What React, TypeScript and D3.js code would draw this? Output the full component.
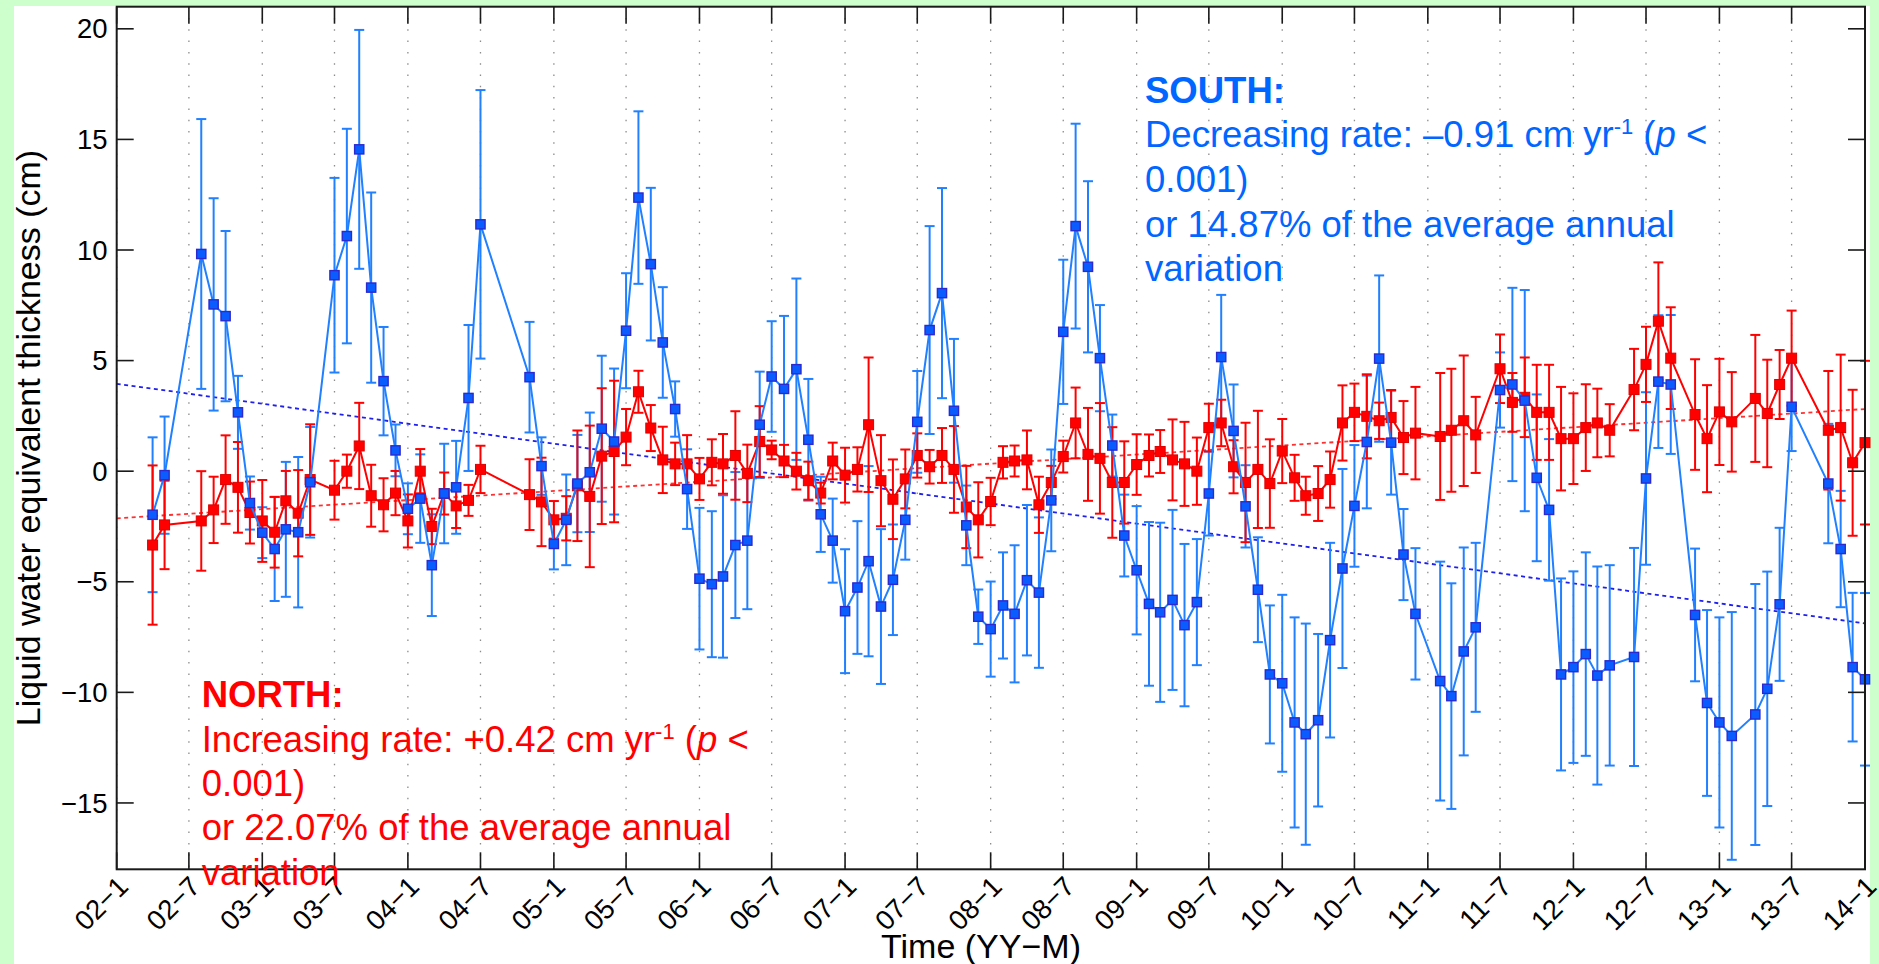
import React from "react";
import * as d3 from "d3";

// ---- data ----
const months: string[] = [
  "2002-04","2002-05","2002-08","2002-09","2002-10","2002-11","2002-12",
  "2003-01","2003-02","2003-03","2003-04","2003-05","2003-07","2003-08","2003-09","2003-10","2003-11","2003-12",
  "2004-01","2004-02","2004-03","2004-04","2004-05","2004-06","2004-07","2004-11","2004-12",
  "2005-01","2005-02","2005-03","2005-04","2005-05","2005-06","2005-07","2005-08","2005-09","2005-10","2005-11","2005-12",
  "2006-01","2006-02","2006-03","2006-04","2006-05","2006-06","2006-07","2006-08","2006-09","2006-10","2006-11","2006-12",
  "2007-01","2007-02","2007-03","2007-04","2007-05","2007-06","2007-07","2007-08","2007-09","2007-10","2007-11","2007-12",
  "2008-01","2008-02","2008-03","2008-04","2008-05","2008-06","2008-07","2008-08","2008-09","2008-10","2008-11","2008-12",
  "2009-01","2009-02","2009-03","2009-04","2009-05","2009-06","2009-07","2009-08","2009-09","2009-10","2009-11","2009-12",
  "2010-01","2010-02","2010-03","2010-04","2010-05","2010-06","2010-07","2010-08","2010-09","2010-10","2010-11","2010-12",
  "2011-02","2011-03","2011-04","2011-05","2011-07","2011-08","2011-09","2011-10","2011-11","2011-12",
  "2012-01","2012-02","2012-03","2012-04","2012-06","2012-07","2012-08","2012-09","2012-11","2012-12",
  "2013-01","2013-02","2013-04","2013-05","2013-06","2013-07","2013-10","2013-11","2013-12","2014-01"
];

const southValues: number[] = [
  -1.97,-0.18,9.82,7.54,7.01,2.66,-1.44,
  -2.78,-3.52,-2.63,-2.76,-0.5,8.86,10.63,14.55,8.3,4.07,0.94,
  -1.7,-1.24,-4.25,-1.01,-0.73,3.31,11.16,4.25,0.23,
  -3.29,-2.2,-0.56,-0.05,1.92,1.34,6.35,12.37,9.36,5.82,2.81,-0.81,
  -4.86,-5.11,-4.76,-3.34,-3.14,2.1,4.28,3.72,4.61,1.42,-1.95,-3.14,
  -6.33,-5.26,-4.07,-6.12,-4.91,-2.2,2.23,6.38,8.05,2.73,-2.45,-6.58,
  -7.14,-6.07,-6.45,-4.93,-5.49,-1.32,6.3,11.08,9.24,5.11,1.16,-2.91,
  -4.48,-6.0,-6.38,-5.82,-6.96,-5.92,-1.01,5.16,1.82,-1.59,-5.36,-9.19,
  -9.59,-11.36,-11.89,-11.26,-7.64,-4.4,-1.57,1.32,5.09,1.29,-3.77,-6.45,
  -9.49,-10.17,-8.15,-7.06,3.67,3.92,3.19,-0.3,-1.75,-9.19,
  -8.86,-8.27,-9.24,-8.78,-8.4,-0.33,4.05,3.92,-6.5,-10.48,
  -11.36,-11.97,-11.0,-9.84,-6.02,2.91,-0.56,-3.52,-8.86,-9.41
];
const southErrors: number[] = [
  3.5,2.65,6.1,4.8,3.85,1.65,1.2,
  1.15,2.35,3.05,3.4,2.5,4.4,4.85,5.4,4.3,2.45,1.17,
  1.15,2.0,2.3,2.25,2.1,3.3,6.07,2.5,1.3,
  1.15,2.05,2.2,2.7,3.3,3.3,2.6,3.9,3.45,2.5,1.25,1.8,
  3.2,3.3,3.67,3.3,3.1,2.4,2.5,3.3,4.1,2.75,1.7,1.9,
  2.8,3.0,4.3,3.5,2.5,1.8,2.3,4.7,4.75,3.25,1.8,1.23,
  2.15,2.4,3.1,3.4,3.4,2.3,3.26,4.63,3.87,2.4,1.4,1.85,
  2.9,3.7,4.05,4.07,3.67,2.85,1.9,2.81,2.1,1.86,2.37,3.12,
  4.0,4.75,5.0,3.9,4.4,4.5,2.75,3.0,3.76,2.35,2.06,2.97,
  5.4,5.1,4.7,3.82,1.7,4.37,5.0,3.77,3.2,4.34,
  4.33,4.6,4.93,4.53,4.93,3.9,3.0,3.14,3.0,4.2,
  4.75,5.6,5.9,5.3,3.46,2.0,2.7,2.63,3.36,3.9
];

const northValues: number[] = [
  -3.34,-2.43,-2.25,-1.75,-0.38,-0.73,-1.87,
  -2.25,-2.76,-1.34,-1.9,-0.38,-0.86,0.0,1.14,-1.11,-1.52,-0.99,
  -2.25,0.0,-2.5,-1.01,-1.57,-1.32,0.08,-1.06,-1.39,
  -2.2,-2.13,-0.66,-1.14,0.68,0.89,1.54,3.59,1.95,0.51,0.33,0.33,
  -0.35,0.4,0.33,0.71,-0.1,1.34,0.96,0.46,0.0,-0.43,-0.99,0.46,
  -0.18,0.08,2.1,-0.43,-1.27,-0.35,0.71,0.2,0.71,0.08,-1.62,-2.2,
  -1.37,0.4,0.46,0.51,-1.52,-0.51,0.66,2.18,0.76,0.58,-0.51,-0.51,
  0.3,0.71,0.89,0.51,0.33,0.0,1.97,2.18,0.2,-0.51,0.08,-0.56,
  0.91,-0.3,-1.11,-1.01,-0.38,2.18,2.66,2.48,2.28,2.43,1.52,1.72,
  1.57,1.85,2.28,1.64,4.63,3.11,3.34,2.66,2.66,1.47,
  1.47,1.97,2.18,1.85,3.69,4.83,6.78,5.11,2.56,1.47,
  2.68,2.23,3.29,2.61,3.92,5.11,1.85,1.97,0.38,1.29
];
const northErrors: number[] = [
  3.6,2.0,2.25,1.5,2.0,2.05,1.4,
  1.85,1.6,1.35,1.95,2.5,1.33,0.75,1.95,1.4,1.2,1.0,
  1.2,1.0,0.8,0.95,1.0,0.7,1.07,1.6,2.0,
  0.85,1.0,2.5,3.2,3.07,3.2,1.27,0.95,1.04,1.5,0.96,1.3,
  0.95,1.04,1.35,2.0,1.3,1.6,0.42,0.73,0.83,0.86,0.47,0.83,
  1.24,1.0,3.04,2.06,1.8,1.33,1.0,0.76,1.24,1.96,1.86,1.7,
  1.07,0.73,0.7,1.33,1.27,0.75,0.72,1.6,2.1,2.5,2.5,1.86,
  1.37,0.95,0.97,1.83,1.9,1.52,1.08,1.05,1.2,2.7,2.65,2.0,
  1.45,1.04,0.86,1.24,1.27,1.7,1.3,1.9,0.82,1.24,1.65,2.09,
  2.87,2.78,2.95,1.72,1.55,1.33,1.8,2.15,2.15,2.34,
  2.05,1.96,1.55,1.18,1.84,1.7,2.66,2.3,2.5,2.42,
  2.4,2.25,2.87,2.43,1.56,2.15,2.68,3.3,3.3,3.7
];

// linear trends at the axis ends (2002-01 and 2014-01)
const trendMonths: string[] = ["2002-01", "2014-01"];
const trendSouth: number[] = [3.95, -6.88];
const trendNorth: number[] = [-2.13, 2.81];

const xTickMonths: string[] = [
  "2002-01","2002-07","2003-01","2003-07","2004-01","2004-07","2005-01","2005-07",
  "2006-01","2006-07","2007-01","2007-07","2008-01","2008-07","2009-01","2009-07",
  "2010-01","2010-07","2011-01","2011-07","2012-01","2012-07","2013-01","2013-07","2014-01"
];
const xTickLabels: string[] = [
  "02−1","02−7","03−1","03−7","04−1","04−7","05−1","05−7",
  "06−1","06−7","07−1","07−7","08−1","08−7","09−1","09−7",
  "10−1","10−7","11−1","11−7","12−1","12−7","13−1","13−7","14−1"
];
const yTicks: number[] = [-15, -10, -5, 0, 5, 10, 15, 20];

const parse = d3.timeParse("%Y-%m");

const W = 1879, H = 964;
const L = 116.7, R = 1865, T = 6.7, B = 869.3;

const BLUE_LINE = "#2080ff";
const BLUE_FILL = "#0a5cff";
const BLUE_EDGE = "#2a2ad0";
const BLUE_TEXT = "#0066ff";
const RED = "#ff0000";

export default function App() {
  const x = d3.scaleTime()
    .domain([parse("2002-01")!, parse("2014-01")!])
    .range([L, R]);
  const y = d3.scaleLinear().domain([-18, 21]).range([B, T]);

  const dates = months.map((m) => parse(m)!);
  const south = dates.map((d, i) => ({ d, v: southValues[i], e: southErrors[i] }));
  const north = dates.map((d, i) => ({ d, v: northValues[i], e: northErrors[i] }));

  const line = d3.line<{ d: Date; v: number }>().x((p) => x(p.d)).y((p) => y(p.v));

  const errBars = (data: { d: Date; v: number; e: number }[], color: string, key: string) =>
    data.map((p, i) => {
      const cx = x(p.d);
      const y1 = y(p.v + p.e);
      const y2 = y(p.v - p.e);
      return (
        <g key={key + i} stroke={color} strokeWidth={2}>
          <line x1={cx} x2={cx} y1={y1} y2={y2} />
          <line x1={cx - 5} x2={cx + 5} y1={y1} y2={y1} />
          <line x1={cx - 5} x2={cx + 5} y1={y2} y2={y2} />
        </g>
      );
    });

  const trendD = trendMonths.map((m) => parse(m)!);
  const fontFamily = "'Liberation Sans', Arial, Helvetica, sans-serif";
  const tickDates = xTickMonths.map((m) => parse(m)!);

  const supShift = -13;

  return (
    <svg
      width={W}
      height={H}
      style={{ position: "absolute", left: 0, top: 0, display: "block" }}
      fontFamily={fontFamily}
    >
      <rect x={0} y={0} width={W} height={H} fill="#ccffcc" />
      <rect x={14} y={6} width={1856} height={H - 6} fill="#ffffff" />

      {/* vertical dotted grid */}
      {tickDates.map((d, i) => (
        <line
          key={"g" + i}
          x1={x(d)}
          x2={x(d)}
          y1={T}
          y2={B}
          stroke="#8c8c8c"
          strokeWidth={1.3}
          strokeDasharray="1.5 9.8"
        />
      ))}

      {/* trend lines */}
      <line
        x1={x(trendD[0])} x2={x(trendD[1])}
        y1={y(trendNorth[0])} y2={y(trendNorth[1])}
        stroke="#ff3030" strokeWidth={1.8} strokeDasharray="4 3.5"
      />
      <line
        x1={x(trendD[0])} x2={x(trendD[1])}
        y1={y(trendSouth[0])} y2={y(trendSouth[1])}
        stroke="#2020ee" strokeWidth={1.8} strokeDasharray="4 3.5"
      />

      {/* error bars */}
      {errBars(south, BLUE_LINE, "sb")}
      {errBars(north, RED, "nb")}

      {/* north line + markers */}
      <path d={line(north) || ""} fill="none" stroke={RED} strokeWidth={2} />
      {north.map((p, i) => (
        <rect key={"nm" + i} x={x(p.d) - 5} y={y(p.v) - 5} width={10} height={10}
          fill={RED} stroke="#e00000" strokeWidth={1} />
      ))}

      {/* south line + markers */}
      <path d={line(south) || ""} fill="none" stroke={BLUE_LINE} strokeWidth={2} />
      {south.map((p, i) => (
        <rect key={"sm" + i} x={x(p.d) - 4.6} y={y(p.v) - 4.6} width={9.2} height={9.2}
          fill={BLUE_FILL} stroke={BLUE_EDGE} strokeWidth={1.4} />
      ))}

      {/* axes box */}
      <rect x={L} y={T} width={R - L} height={B - T} fill="none" stroke="#1a1a1a" strokeWidth={2} />

      {/* x ticks (bottom and top) */}
      {tickDates.map((d, i) => (
        <g key={"xt" + i} stroke="#1a1a1a" strokeWidth={1.6}>
          <line x1={x(d)} x2={x(d)} y1={B} y2={B - 17} />
          <line x1={x(d)} x2={x(d)} y1={T} y2={T + 17} />
        </g>
      ))}
      {/* y ticks (left and right) */}
      {yTicks.map((t) => (
        <g key={"yt" + t} stroke="#1a1a1a" strokeWidth={1.6}>
          <line x1={L} x2={L + 17} y1={y(t)} y2={y(t)} />
          <line x1={R} x2={R - 17} y1={y(t)} y2={y(t)} />
        </g>
      ))}

      {/* y tick labels */}
      {yTicks.map((t) => (
        <text key={"yl" + t} x={107.5} y={y(t)} dy="0.35em" textAnchor="end" fontSize={27.5} fill="#000">
          {t < 0 ? "−" + Math.abs(t) : String(t)}
        </text>
      ))}

      {/* x tick labels */}
      {tickDates.map((d, i) => (
        <text
          key={"xl" + i}
          transform={`translate(${x(d) + 13},${B + 19}) rotate(-45)`}
          textAnchor="end"
          fontSize={27.5}
          fill="#000"
        >
          {xTickLabels[i]}
        </text>
      ))}

      {/* axis titles */}
      <text x={981} y={958} textAnchor="middle" fontSize={34} fill="#000">Time (YY−M)</text>
      <text
        transform={`translate(40,${(T + B) / 2}) rotate(-90)`}
        textAnchor="middle"
        fontSize={34}
        fill="#000"
      >
        Liquid water equivalent thickness (cm)
      </text>

      {/* SOUTH annotation */}
      <g fill={BLUE_TEXT} fontSize={36.5}>
        <text x={1145} y={103.3} fontWeight="bold">SOUTH:</text>
        <text x={1145} y={147.3}>
          Decreasing rate: –0.91 cm yr
          <tspan fontSize={22} dy={supShift}>-1</tspan>
          <tspan dy={-supShift}> (</tspan>
          <tspan fontStyle="italic">p</tspan> &lt;
        </text>
        <text x={1145} y={192.3}>0.001)</text>
        <text x={1145} y={236.5}>or 14.87% of the average annual</text>
        <text x={1145} y={280.7}>variation</text>
      </g>

      {/* NORTH annotation */}
      <g fill={RED} fontSize={36.5}>
        <text x={201.7} y={706.7} fontWeight="bold">NORTH:</text>
        <text x={201.7} y={751.7}>
          Increasing rate: +0.42 cm yr
          <tspan fontSize={22} dy={supShift}>-1</tspan>
          <tspan dy={-supShift}> (</tspan>
          <tspan fontStyle="italic">p</tspan> &lt;
        </text>
        <text x={201.7} y={795.5}>0.001)</text>
        <text x={201.7} y={840}>or 22.07% of the average annual</text>
        <text x={201.7} y={884.5}>variation</text>
      </g>
    </svg>
  );
}
